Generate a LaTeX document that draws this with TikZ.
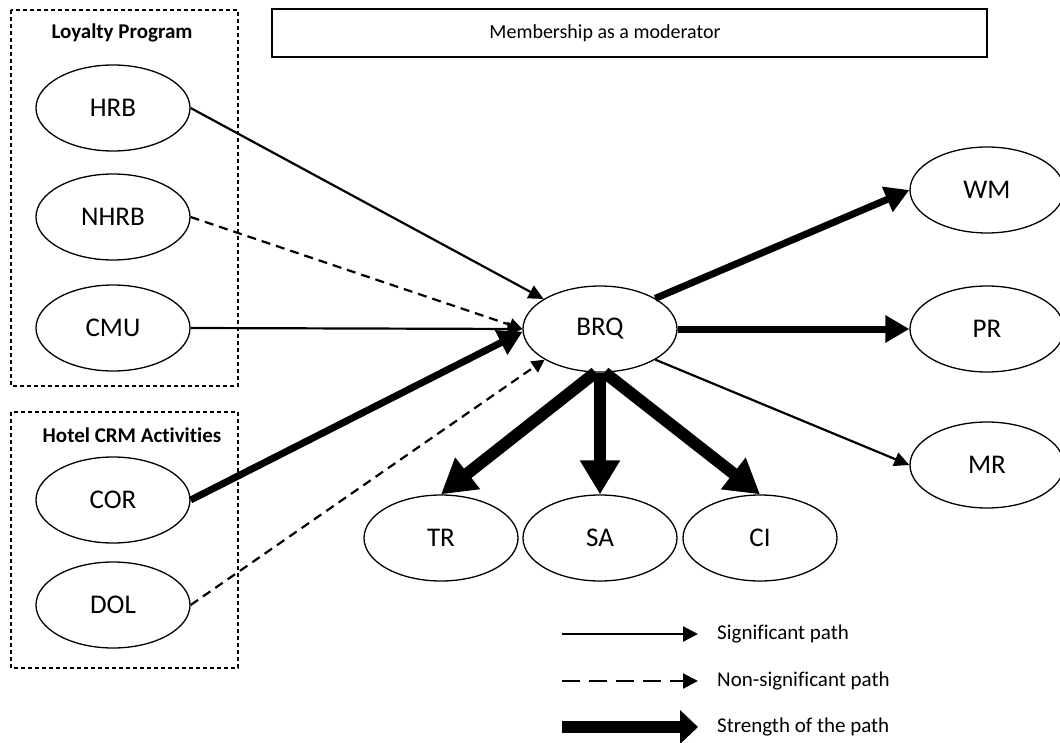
\documentclass[tikz,border=0pt]{standalone}
\usepackage{fontspec}
\setmainfont{Carlito}[Ligatures={NoCommon}]
\usetikzlibrary{shapes.geometric,arrows.meta}
\tikzset{
  var/.style={draw, ellipse, line width=1.3pt, minimum width=154pt, minimum height=86pt, inner sep=0pt, font=\fontsize{27}{31}\selectfont},
  group/.style={draw, line width=1.3pt, dash pattern=on 4pt off 3pt},
  grouplabel/.style={font=\fontsize{21}{25}\selectfont\bfseries},
  sig/.style={line width=2.2pt, -{Triangle[length=15pt,width=14pt]}},
  nonsig/.style={line width=2.2pt, dash pattern=on 9pt off 6pt, -{Triangle[length=13pt,width=13pt]}},
  strong/.style={line width=7pt, -{Triangle[length=24pt,width=26pt]}},
  vstrong/.style={line width=12pt, -{Triangle[length=34pt,width=38pt]}},
  legtext/.style={anchor=west, font=\fontsize{21}{25}\selectfont, inner sep=0pt}
}
\begin{document}
\begin{tikzpicture}[x=1pt,y=-1pt]
\useasboundingbox (0,0) rectangle (1060,743);
% group boxes
\draw[group] (11,10) rectangle (238,386);
\node[grouplabel] (lp) at (122,33) {Loyalty Program};
\draw[group] (11,412) rectangle (238,668);
\node[grouplabel] (hc) at (132,435) {Hotel CRM Activities};
% moderator box
\node[draw, line width=1.3pt, minimum width=715pt, minimum height=48pt, inner sep=0pt] (modbox) at (629.5,33) {};
\node[font=\fontsize{20}{24}\selectfont] (mod) at (605,33) {Membership as a moderator};
% variables
\node[var] (HRB) at (113,108) {HRB};
\node[var] (NHRB) at (113,217) {NHRB};
\node[var] (CMU) at (113,328) {CMU};
\node[var] (COR) at (113,500) {COR};
\node[var] (DOL) at (113,605) {DOL};
\node[var] (BRQ) at (600,329) {BRQ};
\node[var] (WM) at (987,190) {WM};
\node[var] (PR) at (987,329) {PR};
\node[var] (MR) at (987,465) {MR};
\node[var] (TR) at (441,538) {TR};
\node[var] (SA) at (600,538) {SA};
\node[var] (CI) at (760,538) {CI};
% inputs
\draw[sig] (HRB.east) -- (BRQ.152);
\draw[nonsig] (NHRB.east) -- (BRQ.west);
\draw[sig] (CMU.east) -- (BRQ.west);
\draw[strong] (COR.east) -- (BRQ.182);
\draw[nonsig] (DOL.east) -- (BRQ.209);
% outputs
\draw[strong] (BRQ.29) -- (WM.west);
\draw[strong] (BRQ.east) -- (PR.west);
\draw[sig] (BRQ.-29) -- (MR.west);
\draw[vstrong] (BRQ.-96) -- (TR.north);
\draw[vstrong] (BRQ.south) -- (SA.north);
\draw[vstrong] (BRQ.-84) -- (CI.north);
% legend
\coordinate (l1a) at (562,634); \coordinate (l1b) at (698,634);
\coordinate (l2a) at (562,681); \coordinate (l2b) at (698,681);
\coordinate (l3a) at (562,727); \coordinate (l3b) at (698,727);
\draw[line width=2.2pt, -{Triangle[length=15pt,width=15pt]}] (l1a) -- (l1b);
\draw[line width=2.2pt, dash pattern=on 18pt off 9pt, -{Triangle[length=15pt,width=15pt]}] (l2a) -- (l2b);
\draw[line width=12pt, -{Triangle[length=18pt,width=33pt]}] (l3a) -- (l3b);
\node[legtext] (t1) at (717,634) {Significant path};
\node[legtext] (t2) at (717,681) {Non-significant path};
\node[legtext] (t3) at (717,727) {Strength of the path};
\end{tikzpicture}
\end{document}
